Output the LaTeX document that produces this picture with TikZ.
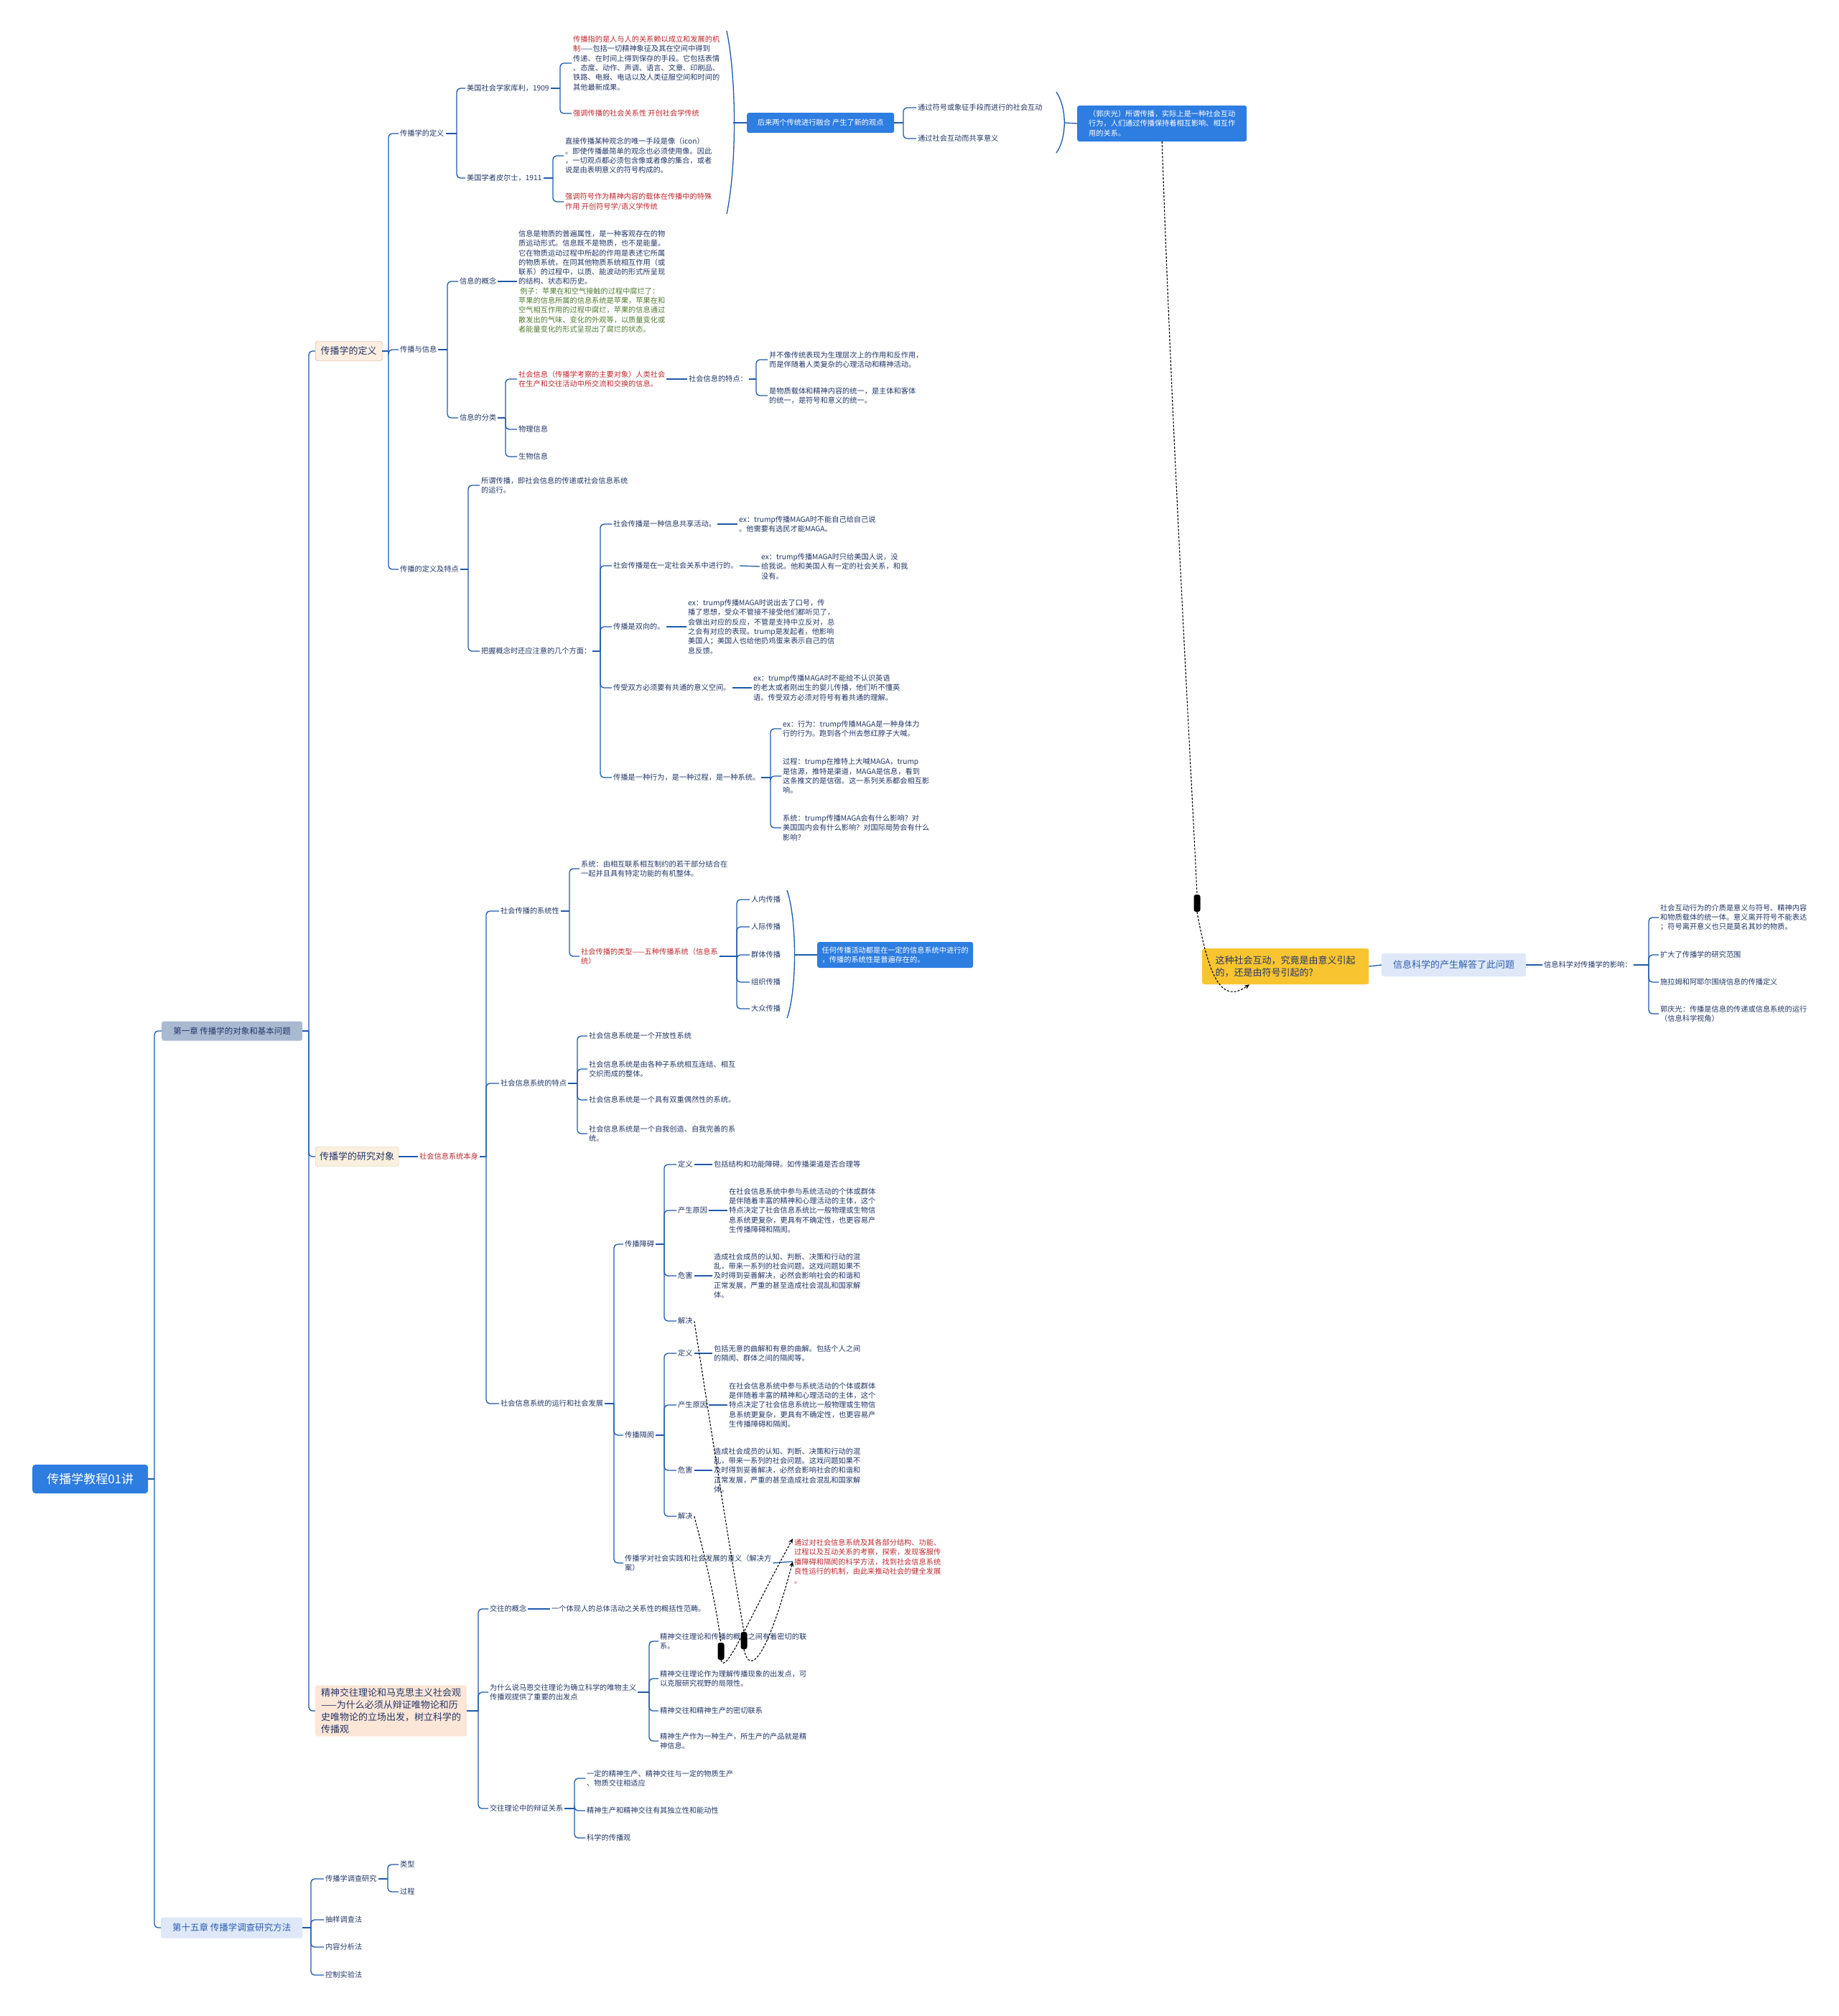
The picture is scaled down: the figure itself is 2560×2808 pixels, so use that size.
\documentclass[tikz,border=0pt]{standalone}
\usepackage{fontspec}
\setmainfont{Noto Sans CJK SC}
\usepackage{xcolor}
\usepackage{tikz}
\usetikzlibrary{arrows.meta}
\definecolor{ink}{RGB}{35,55,105}
\definecolor{redt}{RGB}{192,40,45}
\definecolor{grnt}{RGB}{80,125,50}
\definecolor{wire}{RGB}{30,90,170}
\definecolor{bluebx}{RGB}{46,125,225}
\definecolor{chapA}{RGB}{170,185,210}
\definecolor{chapB}{RGB}{222,232,248}
\definecolor{chapBt}{RGB}{45,95,175}
\definecolor{peach}{RGB}{253,238,225}
\definecolor{peachln}{RGB}{200,160,120}
\definecolor{peachB}{RGB}{252,230,215}
\definecolor{sand}{RGB}{251,240,222}
\definecolor{sandln}{RGB}{215,200,150}
\definecolor{gold}{RGB}{248,196,48}

\begin{document}
\begin{tikzpicture}[x=1pt, y=-1pt, font=\fontsize{10.2}{13.3}\selectfont,
  conn/.style={draw=wire, line width=1.3pt, rounded corners=5pt},
  leaf/.style={anchor=west, inner sep=2pt, align=left, text=ink},
  hot/.style={leaf, text=redt},
  topic/.style={anchor=west, rounded corners=3pt, minimum height=27pt, inner xsep=4pt,
                text=ink, font=\fontsize{13}{17}\selectfont},
  bluebox/.style={anchor=west, fill=bluebx, text=white, rounded corners=3pt, align=left,
                  inner xsep=9pt, inner ysep=5pt},
  rel/.style={black, line width=1.1pt, dash pattern=on 3pt off 2pt},
  knob/.style={fill=black, rounded corners=3pt, minimum width=9pt, minimum height=24pt, inner sep=0pt}]
  \fill[white] (0,0) rectangle (2560,2808);
  \useasboundingbox (0,0) rectangle (2560,2808);

  % root and chapters
  \node[anchor=west, fill=bluebx, text=white, rounded corners=4pt, minimum width=161pt,
        minimum height=40pt, font=\fontsize{17}{20}\selectfont] (root) at (45,2060) {传播学教程01讲};
  \node[anchor=west, fill=chapA, text=ink, rounded corners=3pt, minimum width=196pt,
        minimum height=27pt, font=\fontsize{11.5}{14}\selectfont] (ch1) at (225,1436) {第一章 传播学的对象和基本问题};
  \node[anchor=west, fill=chapB, text=chapBt, rounded corners=3pt, minimum width=197pt,
        minimum height=29pt, font=\fontsize{12.5}{15}\selectfont] (ch15) at (224,2685) {第十五章 传播学调查研究方法};
  \coordinate (s-root) at (215,2060);
  \draw[conn] (root.east) -- (s-root);
  \foreach \kid in {ch1,ch15} \draw[conn] (s-root) |- (\kid.west);

  \node[topic, fill=peach, draw=peachln, minimum width=93pt] (tdef) at (439,489) {传播学的定义};
  \node[topic, fill=sand, draw=sandln, minimum width=116pt] (tobj) at (439,1611) {传播学的研究对象};
  \node[topic, fill=peachB, align=left, inner xsep=8pt, inner ysep=4pt] (tmind) at (439,2383)
    {精神交往理论和马克思主义社会观\\——为什么必须从辩证唯物论和历\\史唯物论的立场出发，树立科学的\\传播观};
  \coordinate (s-ch1) at (430,1436);
  \draw[conn] (ch1.east) -- (s-ch1);
  \foreach \kid in {tdef,tobj,tmind} \draw[conn] (s-ch1) |- (\kid.west);

  % chapter 15
  \node[leaf] (sv) at (451,2617) {传播学调查研究};
  \node[leaf] (sample) at (451,2674) {抽样调查法};
  \node[leaf] (content) at (451,2712) {内容分析法};
  \node[leaf] (exper) at (451,2751) {控制实验法};
  \node[leaf] (svtype) at (555,2597) {类型};
  \node[leaf] (svproc) at (555,2635) {过程};
  \coordinate (s-ch15) at (433,2685);
  \draw[conn] (ch15.east) -- (s-ch15);
  \foreach \kid in {sv,sample,content,exper} \draw[conn] (s-ch15) |- (\kid.west);
  \coordinate (s-sv) at (540,2617);
  \draw[conn] (sv.east) -- (s-sv);
  \foreach \kid in {svtype,svproc} \draw[conn] (s-sv) |- (\kid.west);

  % definition of communication studies
  \node[leaf] (def) at (555,186) {传播学的定义};
  \node[leaf] (info) at (555,487) {传播与信息};
  \node[leaf] (feat) at (555,793) {传播的定义及特点};
  \coordinate (s-tdef) at (541,489);
  \draw[conn] (tdef.east) -- (s-tdef);
  \foreach \kid in {def,info,feat} \draw[conn] (s-tdef) |- (\kid.west);

  \node[leaf] (cooley) at (648,123) {美国社会学家库利，1909};
  \node[leaf] (peirce) at (648,248) {美国学者皮尔士，1911};
  \coordinate (s-def) at (636,186);
  \draw[conn] (def.east) -- (s-def);
  \foreach \kid in {cooley,peirce} \draw[conn] (s-def) |- (\kid.west);

  \node[leaf] (cooleyA) at (796,88) {\textcolor{redt}{传播指的是人与人的关系赖以成立和发展的机}\\\textcolor{redt}{制}——包括一切精神象征及其在空间中得到\\传递、在时间上得到保存的手段。它包括表情\\、态度、动作、声调、语言、文章、印刷品、\\铁路、电报、电话以及人类征服空间和时间的\\其他最新成果。};
  \node[hot] (cooleyB) at (796,158) {强调传播的社会关系性 开创社会学传统};
  \coordinate (s-cooley) at (780,123);
  \draw[conn] (cooley.east) -- (s-cooley);
  \foreach \kid in {cooleyA,cooleyB} \draw[conn] (s-cooley) |- (\kid.west);

  \node[leaf] (peirceA) at (785,217) {直接传播某种观念的唯一手段是像（icon）\\。即使传播最简单的观念也必须使用像。因此\\，一切观点都必须包含像或者像的集合，或者\\说是由表明意义的符号构成的。};
  \node[hot] (peirceB) at (785,281) {强调符号作为精神内容的载体在传播中的特殊\\作用 开创符号学/语义学传统};
  \coordinate (s-peirce) at (770,248);
  \draw[conn] (peirce.east) -- (s-peirce);
  \foreach \kid in {peirceA,peirceB} \draw[conn] (s-peirce) |- (\kid.west);

  \node[bluebox, minimum width=205pt, minimum height=28pt] (fuse) at (1040,171) {后来两个传统进行融合 产生了新的观点};
  \coordinate (br-top) at (1012,43);
  \coordinate (br-mid) at (1021,171);
  \coordinate (br-bot) at (1012,298);
  \draw[conn] (br-top) .. controls (1026,110) and (1026,232) .. (br-bot);
  \draw[conn] (br-mid) -- (fuse.west);

  \node[leaf] (sym) at (1276,150) {通过符号或象征手段而进行的社会互动};
  \node[leaf] (share) at (1276,193) {通过社会互动而共享意义};
  \coordinate (s-fuse) at (1258,171);
  \draw[conn] (fuse.east) -- (s-fuse);
  \foreach \kid in {sym,share} \draw[conn] (s-fuse) |- (\kid.west);

  \node[bluebox, minimum width=236pt, minimum height=50pt, inner xsep=14pt] (guo) at (1500,172)
    {（郭庆光）所谓传播，实际上是一种社会互动\\行为，人们通过传播保持着相互影响、相互作\\用的关系。};
  \coordinate (br2-top) at (1471,128);
  \coordinate (br2-mid) at (1482,171);
  \coordinate (br2-bot) at (1471,213);
  \draw[conn] (br2-top) .. controls (1486,150) and (1486,192) .. (br2-bot);
  \draw[conn] (br2-mid) -- (guo.west);

  % information
  \node[leaf] (concept) at (638,392) {信息的概念};
  \node[leaf] (kinds) at (638,582) {信息的分类};
  \coordinate (s-info) at (623,487);
  \draw[conn] (info.east) -- (s-info);
  \foreach \kid in {concept,kinds} \draw[conn] (s-info) |- (\kid.west);

  \node[leaf] (conceptA) at (720,392) {信息是物质的普遍属性，是一种客观存在的物\\质运动形式。信息既不是物质，也不是能量。\\它在物质运动过程中所起的作用是表述它所属\\的物质系统，在同其他物质系统相互作用（或\\联系）的过程中，以质、能波动的形式所呈现\\的结构、状态和历史。\\\textcolor{grnt}{\ 例子：苹果在和空气接触的过程中腐烂了：}\\\textcolor{grnt}{苹果的信息所属的信息系统是苹果，苹果在和}\\\textcolor{grnt}{空气相互作用的过程中腐烂，苹果的信息通过}\\\textcolor{grnt}{散发出的气味、变化的外观等，以质量变化或}\\\textcolor{grnt}{者能量变化的形式呈现出了腐烂的状态。}};
  \draw[conn] (concept.east) -- (conceptA.west);

  \node[hot] (social) at (720,528) {社会信息（传播学考察的主要对象）人类社会\\在生产和交往活动中所交流和交换的信息。};
  \node[leaf] (phys) at (720,598) {物理信息};
  \node[leaf] (bio) at (720,636) {生物信息};
  \coordinate (s-kinds) at (704,582);
  \draw[conn] (kinds.east) -- (s-kinds);
  \foreach \kid in {social,phys,bio} \draw[conn] (s-kinds) |- (\kid.west);

  \node[leaf] (sfeat) at (957,528) {社会信息的特点：};
  \draw[conn] (social.east) -- (sfeat.west);
  \node[leaf] (sfeatA) at (1069,501) {并不像传统表现为生理层次上的作用和反作用，\\而是伴随着人类复杂的心理活动和精神活动。};
  \node[leaf] (sfeatB) at (1069,551) {是物质载体和精神内容的统一，是主体和客体\\的统一，是符号和意义的统一。};
  \coordinate (s-sfeat) at (1053,528);
  \draw[conn] (sfeat.east) -- (s-sfeat);
  \foreach \kid in {sfeatA,sfeatB} \draw[conn] (s-sfeat) |- (\kid.west);

  % definition and features
  \node[leaf] (meaning) at (668,676) {所谓传播，即社会信息的传递或社会信息系统\\的运行。};
  \node[leaf] (aspects) at (668,907) {把握概念时还应注意的几个方面：};
  \coordinate (s-feat) at (652,793);
  \draw[conn] (feat.east) -- (s-feat);
  \foreach \kid in {meaning,aspects} \draw[conn] (s-feat) |- (\kid.west);

  \node[leaf] (asA) at (852,730) {社会传播是一种信息共享活动。};
  \node[leaf] (asB) at (852,788) {社会传播是在一定社会关系中进行的。};
  \node[leaf] (asC) at (852,873) {传播是双向的。};
  \node[leaf] (asD) at (852,958) {传受双方必须要有共通的意义空间。};
  \node[leaf] (asE) at (852,1083) {传播是一种行为，是一种过程，是一种系统。};
  \coordinate (s-aspects) at (836,907);
  \draw[conn] (aspects.east) -- (s-aspects);
  \foreach \kid in {asA,asB,asC,asD,asE} \draw[conn] (s-aspects) |- (\kid.west);

  \node[leaf] (exA) at (1027,730) {ex：trump传播MAGA时不能自己给自己说\\。他需要有选民才能MAGA。};
  \node[leaf] (exB) at (1058,789) {ex：trump传播MAGA时只给美国人说，没\\给我说。他和美国人有一定的社会关系，和我\\没有。};
  \node[leaf] (exC) at (956,873) {ex：trump传播MAGA时说出去了口号，传\\播了思想，受众不管接不接受他们都听见了，\\会做出对应的反应，不管是支持中立反对，总\\之会有对应的表现。trump是发起者，他影响\\美国人；美国人也给他扔鸡蛋来表示自己的信\\息反馈。};
  \node[leaf] (exD) at (1047,958) {ex：trump传播MAGA时不能给不认识英语\\的老太或者刚出生的婴儿传播，他们听不懂英\\语。传受双方必须对符号有着共通的理解。};
  \foreach \a/\b in {asA/exA,asB/exB,asC/exC,asD/exD} \draw[conn] (\a.east) -- (\b.west);

  \node[leaf] (exE1) at (1088,1015) {ex：行为：trump传播MAGA是一种身体力\\行的行为。跑到各个州去憋红脖子大喊。};
  \node[leaf] (exE2) at (1088,1081) {过程：trump在推特上大喊MAGA，trump\\是信源，推特是渠道，MAGA是信息，看到\\这条推文的是信宿。这一系列关系都会相互影\\响。};
  \node[leaf] (exE3) at (1088,1153) {系统：trump传播MAGA会有什么影响？对\\美国国内会有什么影响？对国际局势会有什么\\影响？};
  \coordinate (s-asE) at (1073,1083);
  \draw[conn] (asE.east) -- (s-asE);
  \foreach \kid in {exE1,exE2,exE3} \draw[conn] (s-asE) |- (\kid.west);

  % research object
  \node[hot] (itself) at (582,1611) {社会信息系统本身};
  \draw[conn] (tobj.east) -- (itself.west);
  \node[leaf] (systemic) at (695,1269) {社会传播的系统性};
  \node[leaf] (sysfeat) at (695,1509) {社会信息系统的特点};
  \node[leaf] (running) at (695,1955) {社会信息系统的运行和社会发展};
  \coordinate (s-itself) at (677,1611);
  \draw[conn] (itself.east) -- (s-itself);
  \foreach \kid in {systemic,sysfeat,running} \draw[conn] (s-itself) |- (\kid.west);

  \node[leaf] (sysdef) at (807,1210) {系统：由相互联系相互制约的若干部分结合在\\一起并且具有特定功能的有机整体。};
  \node[hot] (types) at (807,1332) {社会传播的类型——五种传播系统（信息系\\统）};
  \coordinate (s-systemic) at (793,1269);
  \draw[conn] (systemic.east) -- (s-systemic);
  \foreach \kid in {sysdef,types} \draw[conn] (s-systemic) |- (\kid.west);

  \foreach \y/\name/\id in {1253/人内传播/ty1, 1291/人际传播/ty2, 1330/群体传播/ty3,
                            1368/组织传播/ty4, 1405/大众传播/ty5}
    \node[leaf] (\id) at (1044,\y) {\name};
  \coordinate (s-types) at (1026,1332);
  \draw[conn] (types.east) -- (s-types);
  \foreach \kid in {ty1,ty2,ty3,ty4,ty5} \draw[conn] (s-types) |- (\kid.west);
  \node[bluebox, minimum width=217pt, minimum height=36pt, inner xsep=6pt] (every) at (1138,1330)
    {任何传播活动都是在一定的信息系统中进行的\\，传播的系统性是普遍存在的。};
  \coordinate (br3-top) at (1096,1240);
  \coordinate (br3-mid) at (1106,1330);
  \coordinate (br3-bot) at (1096,1418);
  \draw[conn] (br3-top) .. controls (1110,1280) and (1110,1380) .. (br3-bot);
  \draw[conn] (br3-mid) -- (every.west);

  \node[leaf] (sfA) at (818,1443) {社会信息系统是一个开放性系统};
  \node[leaf] (sfB) at (818,1489) {社会信息系统是由各种子系统相互连结、相互\\交织而成的整体。};
  \node[leaf] (sfC) at (818,1532) {社会信息系统是一个具有双重偶然性的系统。};
  \node[leaf] (sfD) at (818,1579) {社会信息系统是一个自我创造、自我完善的系\\统。};
  \coordinate (s-sysfeat) at (804,1509);
  \draw[conn] (sysfeat.east) -- (s-sysfeat);
  \foreach \kid in {sfA,sfB,sfC,sfD} \draw[conn] (s-sysfeat) |- (\kid.west);

  \node[leaf] (block) at (868,1733) {传播障碍};
  \node[leaf] (gap) at (868,1999) {传播隔阂};
  \node[leaf] (signif) at (868,2177) {传播学对社会实践和社会发展的意义（解决方\\案）};
  \coordinate (s-running) at (855,1955);
  \draw[conn] (running.east) -- (s-running);
  \foreach \kid in {block,gap,signif} \draw[conn] (s-running) |- (\kid.west);

  \node[leaf] (blA) at (942,1622) {定义};
  \node[leaf] (blB) at (942,1686) {产生原因};
  \node[leaf] (blC) at (942,1777) {危害};
  \node[leaf] (blD) at (942,1840) {解决};
  \coordinate (s-block) at (925,1733);
  \draw[conn] (block.east) -- (s-block);
  \foreach \kid in {blA,blB,blC,blD} \draw[conn] (s-block) |- (\kid.west);
  \node[leaf] (blAt) at (992,1622) {包括结构和功能障碍。如传播渠道是否合理等};
  \node[leaf] (blBt) at (1013,1686) {在社会信息系统中参与系统活动的个体或群体\\是伴随着丰富的精神和心理活动的主体，这个\\特点决定了社会信息系统比一般物理或生物信\\息系统更复杂，更具有不确定性，也更容易产\\生传播障碍和隔阂。};
  \node[leaf] (blCt) at (992,1777) {造成社会成员的认知、判断、决策和行动的混\\乱，带来一系列的社会问题。这戏问题如果不\\及时得到妥善解决，必然会影响社会的和谐和\\正常发展，严重的甚至造成社会混乱和国家解\\体。};

  \node[leaf] (gpA) at (942,1885) {定义};
  \node[leaf] (gpB) at (942,1957) {产生原因};
  \node[leaf] (gpC) at (942,2048) {危害};
  \node[leaf] (gpD) at (942,2112) {解决};
  \coordinate (s-gap) at (925,1999);
  \draw[conn] (gap.east) -- (s-gap);
  \foreach \kid in {gpA,gpB,gpC,gpD} \draw[conn] (s-gap) |- (\kid.west);
  \node[leaf] (gpAt) at (992,1885) {包括无意的曲解和有意的曲解。包括个人之间\\的隔阂、群体之间的隔阂等。};
  \node[leaf] (gpBt) at (1013,1957) {在社会信息系统中参与系统活动的个体或群体\\是伴随着丰富的精神和心理活动的主体，这个\\特点决定了社会信息系统比一般物理或生物信\\息系统更复杂，更具有不确定性，也更容易产\\生传播障碍和隔阂。};
  \node[leaf] (gpCt) at (992,2048) {造成社会成员的认知、判断、决策和行动的混\\乱，带来一系列的社会问题。这戏问题如果不\\及时得到妥善解决，必然会影响社会的和谐和\\正常发展，严重的甚至造成社会混乱和国家解\\体。};
  \foreach \a/\b in {blA/blAt,blB/blBt,blC/blCt,gpA/gpAt,gpB/gpBt,gpC/gpCt}
    \draw[conn] (\a.east) -- (\b.west);

  \node[hot] (sol) at (1104,2175) {通过对社会信息系统及其各部分结构、功能、\\过程以及互动关系的考察，探索，发现客服传\\播障碍和隔阂的科学方法，找到社会信息系统\\良性运行的机制，由此来推动社会的健全发展\\。};
  \draw[conn] (signif.east) -- (sol.west);

  % intercourse theory
  \node[leaf] (jw) at (680,2241) {交往的概念};
  \node[leaf] (why) at (680,2357) {为什么说马恩交往理论为确立科学的唯物主义\\传播观提供了重要的出发点};
  \node[leaf] (dial) at (680,2519) {交往理论中的辩证关系};
  \coordinate (s-tmind) at (666,2383);
  \draw[conn] (tmind.east) -- (s-tmind);
  \foreach \kid in {jw,why,dial} \draw[conn] (s-tmind) |- (\kid.west);
  \node[leaf] (jwA) at (766,2241) {一个体现人的总体活动之关系性的概括性范畴。};
  \draw[conn] (jw.east) -- (jwA.west);

  \node[leaf] (whyA) at (917,2286) {精神交往理论和传播的概念之间有着密切的联\\系。};
  \node[leaf] (whyB) at (917,2338) {精神交往理论作为理解传播现象的出发点，可\\以克服研究视野的局限性。};
  \node[leaf] (whyC) at (917,2383) {精神交往和精神生产的密切联系};
  \node[leaf] (whyD) at (917,2425) {精神生产作为一种生产，所生产的产品就是精\\神信息。};
  \coordinate (s-why) at (904,2357);
  \draw[conn] (why.east) -- (s-why);
  \foreach \kid in {whyA,whyB,whyC,whyD} \draw[conn] (s-why) |- (\kid.west);

  \node[leaf] (dialA) at (815,2477) {一定的精神生产、精神交往与一定的物质生产\\、物质交往相适应};
  \node[leaf] (dialB) at (815,2522) {精神生产和精神交往有其独立性和能动性};
  \node[leaf] (dialC) at (815,2560) {科学的传播观};
  \coordinate (s-dial) at (800,2519);
  \draw[conn] (dial.east) -- (s-dial);
  \foreach \kid in {dialA,dialB,dialC} \draw[conn] (s-dial) |- (\kid.west);

  % floating question
  \node[anchor=west, fill=gold, text=ink, rounded corners=3pt, align=left, minimum width=232pt,
        minimum height=50pt, font=\fontsize{13}{17}\selectfont] (ask) at (1674,1346)
    {这种社会互动，究竟是由意义引起\\的，还是由符号引起的?};
  \node[anchor=west, fill=chapB, text=chapBt, rounded corners=3pt, minimum width=201pt,
        minimum height=32pt, font=\fontsize{13}{17}\selectfont] (ans) at (1924,1344) {信息科学的产生解答了此问题};
  \node[leaf] (impact) at (2148,1344) {信息科学对传播学的影响：};
  \draw[conn] (ask.east) -- (ans.west);
  \draw[conn] (ans.east) -- (impact.west);
  \node[leaf] (imA) at (2310,1278) {社会互动行为的介质是意义与符号、精神内容\\和物质载体的统一体。意义离开符号不能表达\\；符号离开意义也只是莫名其妙的物质。};
  \node[leaf] (imB) at (2310,1330) {扩大了传播学的研究范围};
  \node[leaf] (imC) at (2310,1368) {施拉姆和阿耶尔围绕信息的传播定义};
  \node[leaf] (imD) at (2310,1412) {郭庆光：传播是信息的传递或信息系统的运行\\（信息科学视角）};
  \coordinate (s-impact) at (2296,1344);
  \draw[conn] (impact.east) -- (s-impact);
  \foreach \kid in {imA,imB,imC,imD} \draw[conn] (s-impact) |- (\kid.west);

  % relation lines
  \node[knob] (k1) at (1667,1258) {};
  \node[knob] (k2) at (1036,2285) {};
  \node[knob] (k3) at (1004,2300) {};
  \draw[rel] (guo.south) .. controls (1632,600) and (1655,1000) .. (k1.north);
  \draw[rel, -{Stealth[length=7pt, width=6pt]}] (k1.south) .. controls (1684,1365) and (1702,1398) .. ([xshift=66pt]ask.south west);
  \draw[rel] (blD.east) .. controls (990,1990) and (1015,2150) .. (k2.north);
  \draw[rel, -{Stealth[length=7pt, width=6pt]}] (k2.south) .. controls (1044,2335) and (1068,2310) .. (sol.west);
  \draw[rel] (gpD.east) .. controls (985,2180) and (998,2240) .. (k3.north);
  \draw[rel, -{Stealth[length=7pt, width=6pt]}] (k3.south) .. controls (1010,2335) and (1040,2260) .. ([yshift=32pt]sol.west);
\end{tikzpicture}
\end{document}
